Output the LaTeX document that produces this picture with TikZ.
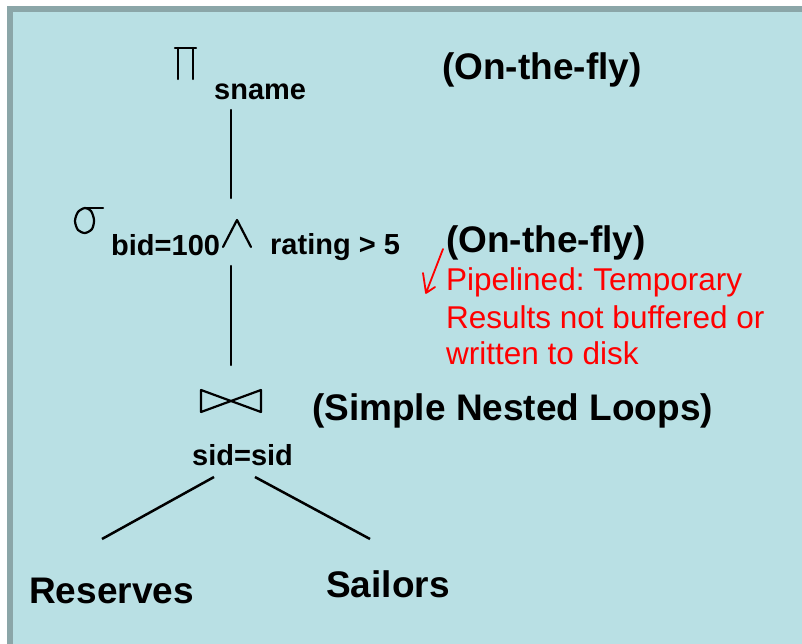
\documentclass[tikz,border=0pt]{standalone}
\usepackage{fontspec}
\setmainfont{Liberation Sans}
\definecolor{slidebg}{RGB}{185,224,228}
\definecolor{slideframe}{RGB}{139,166,168}
\definecolor{notered}{RGB}{255,0,0}
\frenchspacing

\begin{document}
\begin{tikzpicture}[x=1pt, y=-1pt]
%% one unit is one pixel of the slide, y runs downwards
\tikzstyle{op}=[black, line width=2.2pt, line join=round, line cap=round]
\tikzstyle{edge}=[black, line width=2.5pt]
\tikzstyle{big}=[font=\fontsize{37}{44}\selectfont\bfseries, inner sep=0pt, anchor=base west]
\tikzstyle{sub}=[font=\fontsize{29}{34}\selectfont\bfseries, inner sep=0pt, anchor=base west]
\tikzstyle{hint}=[font=\fontsize{31.5}{37}\selectfont, text=notered, inner sep=0pt, anchor=base west]
\tikzstyle{hintarc}=[notered, line width=1.8pt, line cap=round, line join=round]
%% slide background and frame
\useasboundingbox (0,0) rectangle (802,644);
\clip (0,0) rectangle (802,644);
\fill[white] (0,0) rectangle (802,644);
\draw[slideframe, line width=6pt, fill=slidebg] (10,9) rectangle (830,680);
%% end points of the plan edges
\coordinate (projB) at (231,110);
\coordinate (selT) at (231,198);
\coordinate (selB) at (231,266);
\coordinate (joinT) at (231,365);
\coordinate (joinL) at (214,477);
\coordinate (joinR) at (255,477);
\coordinate (resT) at (102,539);
\coordinate (sailT) at (370,539);
%% projection pi_sname
\draw[op] (175,48) -- (196,48) (178,48) -- (178,79) (193,48) -- (193,79);
\node[sub] at (214,100) (pname) {sname};
\node[big] at (442,80) (fly1) {(On-the-fly)};
%% selection sigma with the and sign
\draw[op] (85,208) -- (103,208);
\draw[op] plot[smooth cycle] coordinates {(85,208) (78,212) (75,221) (78,230) (85,233) (92,229) (94,220) (91,211)};
\node[sub] at (111,255) (bid) {bid=100};
\draw[op] (223,247) -- (237,220) -- (251,247);
\node[sub] at (270,254) (rating) {rating > 5};
\node[big] at (446,252) (fly2) {(On-the-fly)};
%% red note on pipelining
\coordinate (tail) at (443,249);
\coordinate (tip) at (426,293);
\draw[hintarc] (tail) -- (tip) -- ++(-3,-20) (tip) -- ++(9,-6);
\node[hint] at (446,290) (pipe1) {Pipelined: Temporary};
\node[hint] at (446,328) (pipe2) {Results not buffered or};
\node[hint] at (446,364) (pipe3) {written to disk};
%% join sid=sid
\draw[op] (201,390) -- (201,412) -- (261,390) -- (261,412) -- cycle;
\node[big] at (312,420) (loops) {(Simple Nested Loops)};
\node[sub] at (192,465) (jcond) {sid=sid};
%% relations
\node[big] at (29,603) (res) {Reserves};
\node[big] at (326,597) (sail) {Sailors};
%% plan edges
\draw[op] (projB) -- (selT);
\draw[op] (selB) -- (joinT);
\draw[edge] (joinL) -- (resT);
\draw[edge] (joinR) -- (sailT);
\end{tikzpicture}
\end{document}
